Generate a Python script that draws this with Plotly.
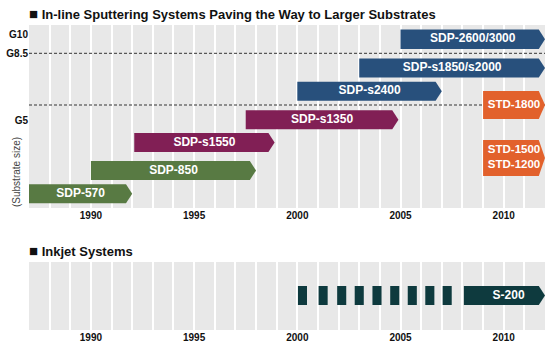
import plotly.graph_objects as go

# ---------------- data ----------------
years_ticks = [1990, 1995, 2000, 2005, 2010]
x_min, x_max = 1987, 2012

sys_names = ["SDP-570", "SDP-850", "SDP-s1550", "SDP-s1350", "SDP-s2400",
             "SDP-s1850/s2000", "SDP-2600/3000", "STD-1500<br>STD-1200", "STD-1800"]
sys_start = [1987, 1990, 1992.1, 1997.5, 2000, 2003, 2005, 2009, 2009]
sys_end = [1992, 1998, 1998.9, 2004.9, 2007, 2012, 2012, 2012, 2012]
sys_lane = [1.42, 3.75, 6.55, 8.83, 11.67, 14.0, 16.88, 5.0, 10.3]
sys_height = [1.9, 1.9, 1.9, 1.9, 1.9, 1.9, 1.95, 3.6, 2.8]
sys_group = ["green", "green", "purple", "purple", "blue", "blue", "blue", "orange", "orange"]

size_labels = ["G10", "G8.5", "G5"]
size_levels = [17.4, 15.47, 8.8]
dashed_levels = [15.47, 10.3]

inkjet_dash_starts = [2000.03, 2001.03, 2001.93, 2002.78, 2003.64, 2004.5, 2005.35, 2006.2, 2007.04]
inkjet_dash_width = 0.44
inkjet_name = "S-200"
inkjet_start = 2008.07
inkjet_end = 2012
inkjet_lane = 3.45

# ---------------- style ----------------
colors = {"green": "#587a43", "purple": "#811f55", "blue": "#28507c",
          "orange": "#e2612c", "teal": "#0e3a3e"}
BG = "#e8e8e8"
FONT = "Liberation Sans, Arial, sans-serif"
TIP = 0.3  # arrow-head depth in years
W, H = 551, 356

fig = go.Figure()

# dashed reference lines (top panel)
for lv in dashed_levels:
    fig.add_trace(go.Scatter(x=[x_min, x_max], y=[lv, lv], mode="lines",
                             line=dict(color="#333333", width=1, dash="3px,2px"),
                             hoverinfo="skip", showlegend=False, xaxis="x", yaxis="y"))


def arrow(x0, x1, yc, h):
    hh = h / 2
    return ([x0, x1 - TIP, x1, x1 - TIP, x0, x0],
            [yc - hh, yc - hh, yc, yc + hh, yc + hh, yc - hh])


for nm, s, e, ln, hgt, g in zip(sys_names, sys_start, sys_end, sys_lane, sys_height, sys_group):
    xs, ys = arrow(s, e, ln, hgt)
    fig.add_trace(go.Scatter(x=xs, y=ys, mode="lines", fill="toself",
                             fillcolor=colors[g], line=dict(width=0, color=colors[g]),
                             hoverinfo="skip", showlegend=False, xaxis="x", yaxis="y"))

fig.add_trace(go.Scatter(
    x=[(s + e) / 2 for s, e in zip(sys_start, sys_end)], y=sys_lane,
    mode="text", text=["<b>%s</b>" % n for n in sys_names],
    textfont=dict(color="white", family=FONT,
                  size=[11.5 if g == "orange" else 12 for g in sys_group]),
    hoverinfo="skip", showlegend=False, xaxis="x", yaxis="y"))

# inkjet panel
for ds in inkjet_dash_starts:
    xs = [ds, ds + inkjet_dash_width, ds + inkjet_dash_width, ds, ds]
    ys = [inkjet_lane - 0.95, inkjet_lane - 0.95, inkjet_lane + 0.95, inkjet_lane + 0.95, inkjet_lane - 0.95]
    fig.add_trace(go.Scatter(x=xs, y=ys, mode="lines", fill="toself",
                             fillcolor=colors["teal"], line=dict(width=0, color=colors["teal"]),
                             hoverinfo="skip", showlegend=False, xaxis="x2", yaxis="y2"))
xs, ys = arrow(inkjet_start, inkjet_end, inkjet_lane, 1.9)
fig.add_trace(go.Scatter(x=xs, y=ys, mode="lines", fill="toself",
                         fillcolor=colors["teal"], line=dict(width=0, color=colors["teal"]),
                         hoverinfo="skip", showlegend=False, xaxis="x2", yaxis="y2"))
fig.add_trace(go.Scatter(x=[(inkjet_start + inkjet_end) / 2 + 0.2], y=[inkjet_lane], mode="text",
                         text=["<b>%s</b>" % inkjet_name],
                         textfont=dict(color="white", family=FONT, size=12),
                         hoverinfo="skip", showlegend=False, xaxis="x2", yaxis="y2"))

xdom = [29 / W, 545 / W]
xcommon = dict(range=[x_min, x_max], domain=xdom, tickvals=years_ticks,
               ticktext=["<b>%d</b>" % y for y in years_ticks],
               tickfont=dict(family=FONT, size=10, color="#111111"),
               showgrid=True, gridcolor="white", gridwidth=2,
               minor=dict(dtick=1, tick0=x_min, showgrid=True, gridcolor="white", gridwidth=2),
               zeroline=False, showline=False, ticks="", fixedrange=True, automargin=False)

fig.update_layout(
    width=W, height=H, margin=dict(l=0, r=0, t=0, b=0, pad=0, autoexpand=False),
    paper_bgcolor="white", plot_bgcolor=BG, showlegend=False,
    xaxis=dict(anchor="y", **xcommon),
    yaxis=dict(domain=[1 - 208 / H, 1 - 25 / H], range=[0, 18.3], anchor="x",
               tickvals=size_levels, ticktext=["<b>%s</b>" % s for s in size_labels],
               tickfont=dict(family=FONT, size=10, color="#111111"),
               showgrid=False, zeroline=False, ticks="", fixedrange=True, automargin=False),
    xaxis2=dict(anchor="y2", **xcommon),
    yaxis2=dict(domain=[1 - 330 / H, 1 - 262 / H], range=[0, 6.8], anchor="x2",
                showticklabels=False, showgrid=False, zeroline=False, ticks="",
                fixedrange=True, automargin=False),
    annotations=[
        dict(text="<b><span style='font-size:15px'>■</span> In-line Sputtering Systems Paving the Way to Larger Substrates</b>",
             xref="paper", yref="paper", x=27 / W, y=1 - 14 / H, xanchor="left", yanchor="middle",
             showarrow=False, font=dict(family=FONT, size=13, color="#111111")),
        dict(text="<b><span style='font-size:15px'>■</span> Inkjet Systems</b>",
             xref="paper", yref="paper", x=27 / W, y=1 - 250 / H, xanchor="left", yanchor="middle",
             showarrow=False, font=dict(family=FONT, size=13, color="#111111")),
        dict(text="(Substrate size)", textangle=-90,
             xref="paper", yref="paper", x=16 / W, y=1 - 172 / H, xanchor="center", yanchor="middle",
             showarrow=False, font=dict(family=FONT, size=10, color="#444444")),
    ],
)

fig.write_html("out.html", config={"displayModeBar": False})

# remove the browser's default page margin so the figure sits at the window origin
with open("out.html", "r", encoding="utf-8") as f:
    html = f.read()
html = html.replace("<head>", "<head><style>html,body{margin:0;padding:0;overflow:hidden;}</style>", 1)
with open("out.html", "w", encoding="utf-8") as f:
    f.write(html)
